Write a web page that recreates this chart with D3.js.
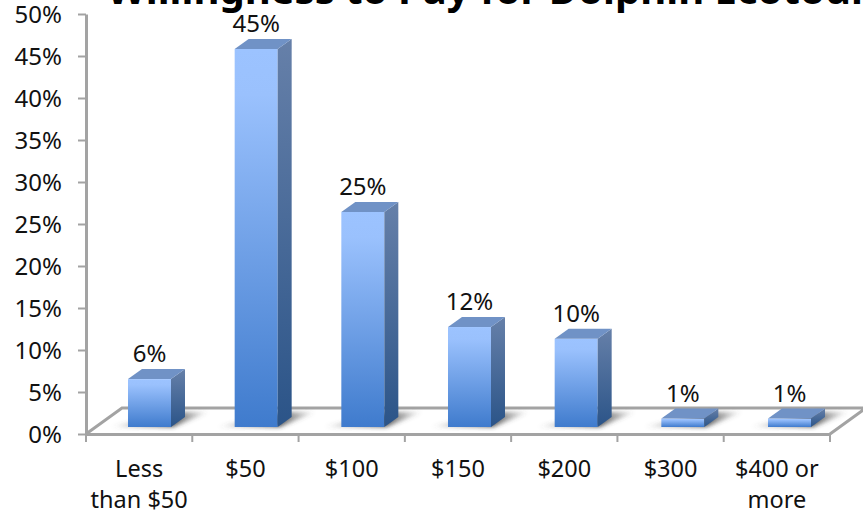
<!DOCTYPE html>
<html>
<head>
<meta charset="utf-8">
<script src="https://cdn.jsdelivr.net/npm/d3@7"></script>
<style>
  html, body { margin: 0; padding: 0; background: #fff; overflow: hidden; }
  text { font-family: "Noto Sans", "Open Sans", sans-serif; fill: #111; }
</style>
</head>
<body>
<div id="chart"></div>
<script>
// chart values
const chartTitle = "Willingness to Pay for Dolphin Ecotour";
const categories = ["Less\nthan $50", "$50", "$100", "$150", "$200", "$300", "$400 or\nmore"];
const values = [5.7, 45, 25.6, 11.9, 10.5, 1, 1];
const dataLabels = ["6%", "45%", "25%", "12%", "10%", "1%", "1%"];
const yTicks = [0, 5, 10, 15, 20, 25, 30, 35, 40, 45, 50];

const width = 863, height = 513;

// the plot box, floor is a parallelogram behind the axis line
const left = 86, right = 830, top_ = 14, bottom = 434;
const depthX = 14, depthY = 10; // bar depth
const floorX = 36, floorY = 26; // floor depth
const floorLift = 7; // bars stand this far behind the front edge
const barWidth = 43;

const svg = d3.select("#chart").append("svg").attr("width", width).attr("height", height);

const x = d3.scaleBand().domain(categories).range([left, right]);
// bars drift a little from the band centres in the original
const xBar = d3.scalePoint().domain(categories).range([128, 768]);
const y = d3.scaleLinear().domain([0, 50]).range([bottom, top_]);

const defs = svg.append("defs");

function gradient(id, stops, horizontal) {
  const g = defs.append("linearGradient").attr("id", id)
    .attr("x1", 0).attr("y1", 0)
    .attr("x2", horizontal ? 1 : 0).attr("y2", horizontal ? 0 : 1);
  stops.forEach(function (s) {
    g.append("stop").attr("offset", s[0]).attr("stop-color", s[1]).attr("stop-opacity", s[2] === undefined ? 1 : s[2]);
  });
}
gradient("front", [[0, "#9cc3ff"], [0.12, "#9ac1fd"], [1, "#3f7bcd"]]);
gradient("side", [[0, "#6680a9"], [1, "#2b5488"]]);
gradient("shadow", [[0, "#555", 0], [0.35, "#555", 0.55], [0.62, "#333", 0.85], [1, "#555", 0]], true);
defs.append("filter").attr("id", "blur").attr("x", "-20%").attr("y", "-40%").attr("width", "140%").attr("height", "180%")
  .append("feGaussianBlur").attr("stdDeviation", 2.2);

// title, runs off the top and right of the picture like the original
svg.append("text")
  .attr("x", 107).attr("y", 4)
  .style("font-size", "40px").style("font-weight", 700).style("fill", "#000")
  .text(chartTitle);

// floor
const lineColor = "#a3a3a3";
svg.append("path")
  .attr("d", d3.line()([
    [left, bottom],
    [left + floorX, bottom - floorY],
    [right + floorX, bottom - floorY],
    [right, bottom]
  ]))
  .attr("fill", "none").attr("stroke", lineColor).attr("stroke-width", 3);

// y axis
const yAxis = svg.append("g").attr("transform", `translate(${left},0)`)
  .call(d3.axisLeft(y).tickValues(yTicks).tickFormat((d) => d + "%").tickSize(8).tickPadding(16).tickSizeOuter(0));
yAxis.select(".domain").attr("stroke", lineColor).attr("stroke-width", 3);
yAxis.selectAll("line").attr("stroke", lineColor).attr("stroke-width", 2);
yAxis.selectAll("text").style("font-size", "24px").attr("dy", "0.35em");

// x axis
const xAxis = svg.append("g").attr("transform", `translate(0,${bottom})`)
  .call(d3.axisBottom(x).tickSize(0).tickPadding(26).tickSizeOuter(0));
xAxis.select(".domain").attr("stroke", lineColor).attr("stroke-width", 3);
xAxis.selectAll("line").remove();
xAxis.selectAll("text").style("font-size", "23.5px").each(function (d) {
  const t = d3.select(this);
  t.text(null);
  d.split("\n").forEach(function (part, i) {
    t.append("tspan").attr("x", 0).attr("dy", i ? "1.34em" : "0.71em").text(part);
  });
});
// ticks sit on the band edges
xAxis.selectAll(".edge")
  .data(categories.map((d) => x(d)).concat([right]))
  .join("line")
  .attr("x1", (d) => d).attr("x2", (d) => d)
  .attr("y1", 0).attr("y2", 8)
  .attr("stroke", lineColor).attr("stroke-width", 2);

// bars
const rows = categories.map((c, i) => ({ cat: c, value: values[i], label: dataLabels[i] }));
const baseY = bottom - floorLift;
const barX = (d) => xBar(d.cat);
const barTop = (d) => y(d.value) - floorLift;
const poly = d3.line();

const bars = svg.append("g").selectAll("g").data(rows).join("g");

bars.append("path")
  .attr("d", function (d) {
    const x0 = barX(d), x1 = x0 + barWidth;
    return poly([[x0 - 18, baseY], [x1 + 2, baseY], [x1 + 38, baseY - 15], [x1 + 8, baseY - 15]]) + "Z";
  })
  .attr("fill", "url(#shadow)")
  .attr("filter", "url(#blur)");

bars.append("rect")
  .attr("x", barX).attr("y", barTop)
  .attr("width", barWidth).attr("height", (d) => baseY - barTop(d))
  .attr("fill", "url(#front)");

bars.append("path")
  .attr("d", function (d) {
    const x1 = barX(d) + barWidth;
    return poly([[x1, barTop(d)], [x1 + depthX, barTop(d) - depthY], [x1 + depthX, baseY - depthY], [x1, baseY]]) + "Z";
  })
  .attr("fill", "url(#side)");

bars.append("path")
  .attr("d", function (d) {
    const x0 = barX(d), x1 = x0 + barWidth, t = barTop(d);
    return poly([[x0, t], [x0 + depthX, t - depthY], [x1 + depthX, t - depthY], [x1, t]]) + "Z";
  })
  .attr("fill", "#7092c6");

bars.append("text")
  .attr("x", (d) => barX(d) + barWidth / 2)
  .attr("y", (d) => barTop(d) - depthY - 7)
  .attr("text-anchor", "middle")
  .style("font-size", "24px")
  .text((d) => d.label);
</script>
</body>
</html>
